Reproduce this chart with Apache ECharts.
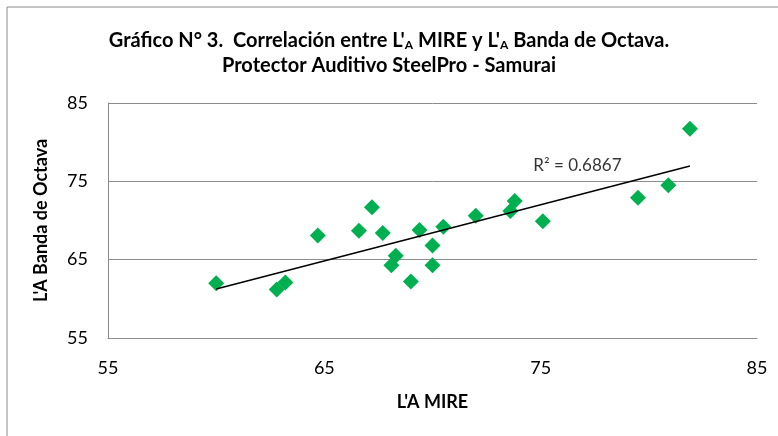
<!DOCTYPE html>
<html>
<head>
<meta charset="utf-8">
<script src="https://cdn.jsdelivr.net/npm/echarts@6/dist/echarts.min.js"></script>
<style>
html, body { margin: 0; padding: 0; background: #fff; }
#chart { width: 778px; height: 436px; }
</style>
</head>
<body>
<div id="chart"></div>
<script>
// L'A MIRE (x) vs L'A Banda de Octava (y)
const mireVals = [60.0, 62.8, 63.2, 64.7, 66.6, 67.2, 67.7, 68.1, 68.3, 69.0, 69.4, 70.0, 70.0, 70.5, 72.0, 73.6, 73.8, 75.1, 79.5, 80.9, 81.9];
const octavaVals = [62.0, 61.2, 62.1, 68.1, 68.7, 71.7, 68.4, 64.3, 65.5, 62.2, 68.8, 64.3, 66.8, 69.2, 70.6, 71.2, 72.5, 69.9, 72.9, 74.5, 81.7];
const trendLine = [[60.0, 61.25], [81.9, 76.95]];
const r2Text = 'R² = 0.6867';
const r2Pos = [76.7, 77.0];
const axisTicks = [55, 65, 75, 85];

const font = 'Lato, "Open Sans", sans-serif';
const points = mireVals.map((x, i) => [x, octavaVals[i]]);

const chart = echarts.init(document.getElementById('chart'));
chart.setOption({
    animation: false,
    backgroundColor: '#fff',
    graphic: [{
        type: 'rect',
        shape: { x: 7, y: 7, width: 800, height: 460 },
        style: { fill: 'none', stroke: '#8c8c8c', lineWidth: 1 },
        silent: true
    }],
    title: {
        left: 'center',
        top: 23,
        text: "{b|Gráfico N° 3.  Correlación entre L'}{s|A}{b| MIRE y L'}{s|A}{b| Banda de Octava.}\n{b|Protector Auditivo SteelPro - Samurai}",
        textStyle: {
            fontFamily: font,
            fontWeight: 'bold',
            fontSize: 20,
            color: '#000',
            rich: {
                b: { fontFamily: font, fontWeight: 'bold', fontSize: 20, color: '#000', lineHeight: 25 },
                s: { fontFamily: font, fontWeight: 'bold', fontSize: 12, color: '#000', lineHeight: 25, padding: [10, 0, 0, 0] }
            }
        }
    },
    grid: { left: 108, right: 21, top: 103, bottom: 98 },
    xAxis: {
        type: 'value',
        min: axisTicks[0],
        max: axisTicks[axisTicks.length - 1],
        interval: 10,
        name: "L'A MIRE",
        nameLocation: 'middle',
        nameGap: 55,
        nameTextStyle: { fontFamily: font, fontWeight: 'bold', fontSize: 18, color: '#000' },
        axisLine: { show: true, lineStyle: { color: '#8c8c8c' } },
        axisTick: { show: false },
        splitLine: { show: false },
        axisLabel: { fontFamily: font, fontSize: 18, color: '#000', margin: 21 }
    },
    yAxis: {
        type: 'value',
        min: axisTicks[0],
        max: axisTicks[axisTicks.length - 1],
        interval: 10,
        name: "L'A Banda de Octava",
        nameLocation: 'middle',
        nameGap: 58,
        nameTextStyle: { fontFamily: font, fontWeight: 'bold', fontSize: 18, color: '#000' },
        axisLine: { show: true, lineStyle: { color: '#8c8c8c' } },
        axisTick: { show: false },
        splitLine: { show: true, lineStyle: { color: '#8c8c8c', width: 1 } },
        axisLabel: { fontFamily: font, fontSize: 18, color: '#000', margin: 20 }
    },
    series: [
        {
            type: 'scatter',
            data: points,
            symbol: 'diamond',
            symbolSize: 16,
            itemStyle: { color: '#00b050', opacity: 1 },
            z: 3
        },
        {
            type: 'line',
            data: trendLine,
            symbol: 'none',
            lineStyle: { color: '#000', width: 1.5 },
            z: 4
        },
        {
            type: 'scatter',
            data: [r2Pos],
            symbolSize: 0,
            silent: true,
            label: {
                show: true,
                position: 'inside',
                formatter: r2Text,
                fontFamily: font,
                fontSize: 17,
                color: '#000'
            },
            z: 5
        }
    ]
});
</script>
</body>
</html>
